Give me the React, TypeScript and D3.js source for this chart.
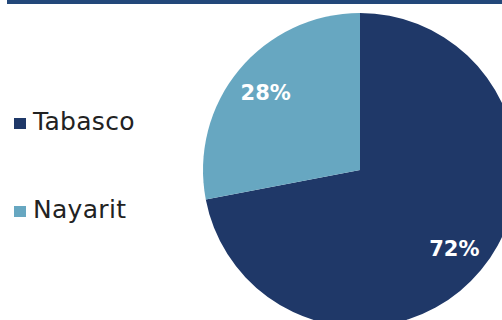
import React from "react";
import * as d3 from "d3";

const categories = ["Tabasco", "Nayarit"];
const values = [72, 28];
const colors = ["#1F3868", "#67A7C1"];

export default function App() {
  const W = 502, H = 320;
  const cx = 360, cy = 170, r = 157;
  const pie = d3.pie<number>().sort(null).value((d) => d);
  const arcs = pie(values);
  const arc = d3.arc<d3.PieArcDatum<number>>().innerRadius(0).outerRadius(r);
  const labelArc = d3.arc<d3.PieArcDatum<number>>().innerRadius(r * 0.78).outerRadius(r * 0.78);
  return (
    <svg width={W} height={H} style={{ position: "absolute", left: 0, top: 0, background: "#fff" }}
      fontFamily="'DejaVu Sans', sans-serif">
      <rect x={7} y={0} width={W - 7} height={4} fill="#23487A" />
      <g transform={`translate(${cx},${cy})`}>
        {arcs.map((a, i) => (
          <path key={i} d={arc(a) || ""} fill={colors[i]} />
        ))}
        {arcs.map((a, i) => {
          const [x, y] = labelArc.centroid(a);
          return (
            <text key={"t" + i} x={x} y={y} dy="0.36em" textAnchor="middle" fill="#fff"
              fontSize={21} fontWeight="bold">
              {values[i] + "%"}
            </text>
          );
        })}
      </g>
      {categories.map((c, i) => {
        const y = 130 + i * 88;
        return (
          <g key={c}>
            <rect x={14} y={y - 12} width={12} height={11} fill={colors[i]} />
            <text x={33} y={y} fontSize={25} fill="#222" letterSpacing={0.3}>{c}</text>
          </g>
        );
      })}
    </svg>
  );
}
